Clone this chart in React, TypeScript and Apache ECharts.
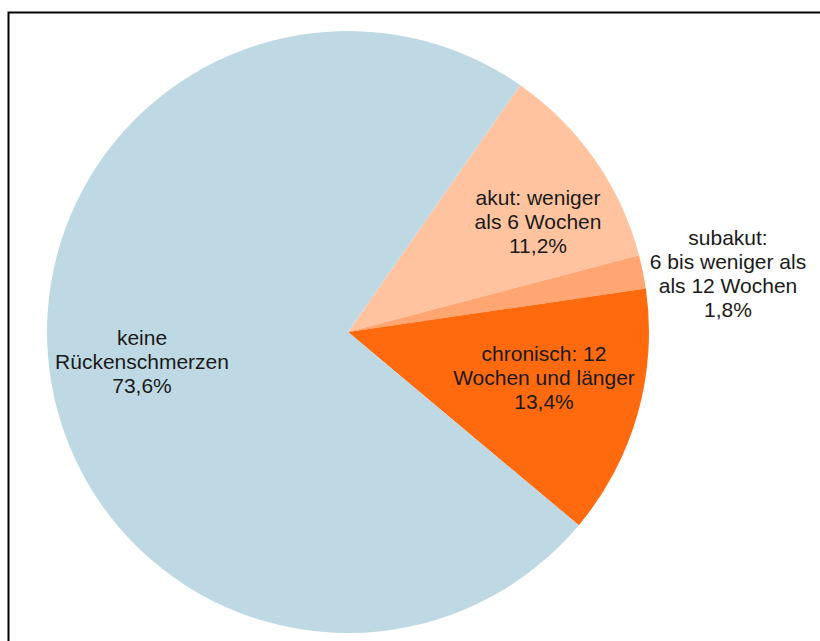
import React, { useEffect, useRef } from "react";
import * as echarts from "echarts";

const categories = [
  "akut: weniger\nals 6 Wochen",
  "subakut:\n6 bis weniger als\nals 12 Wochen",
  "chronisch: 12\nWochen und länger",
  "keine\nRückenschmerzen",
];
const values = [11.2, 1.8, 13.4, 73.6];
const colors = ["#FFC49F", "#FFA672", "#FF6A0F", "#BFD9E4"];
const labelCenters = [
  [538, 221],
  [728, 273],
  [544, 377],
  [142, 361],
];

export default function App() {
  const ref = useRef<HTMLDivElement>(null);
  useEffect(() => {
    document.body.style.margin = "0";
    const chart = echarts.init(ref.current!, null, { renderer: "svg" });
    chart.setOption({
      animation: false,
      backgroundColor: "#ffffff",
      graphic: [
        {
          type: "rect",
          shape: { x: 8.5, y: 12.5, width: 840, height: 660 },
          style: { fill: "none", stroke: "#000000", lineWidth: 2 },
          silent: true,
        },
      ],
      series: [
        {
          type: "pie",
          center: [348, 332],
          radius: 301,
          startAngle: 55.1,
          clockwise: true,
          avoidLabelOverlap: false,
          itemStyle: { borderWidth: 0 },
          emphasis: { disabled: true },
          label: {
            show: true,
            position: "inside",
            fontFamily: "Liberation Sans, Arial, sans-serif",
            fontSize: 21,
            lineHeight: 24,
            color: "#1a1a1a",
            align: "center",
            formatter: (p: any) =>
              p.name + "\n" + p.value.toFixed(1).replace(".", ",") + "%",
          },
          labelLine: { show: false },
          labelLayout: (params: any) => ({
            x: labelCenters[params.dataIndex][0],
            y: labelCenters[params.dataIndex][1],
            align: "center",
            verticalAlign: "middle",
          }),
          data: categories.map((c, i) => ({
            name: c,
            value: values[i],
            itemStyle: { color: colors[i] },
          })),
        },
      ],
    });
    return () => chart.dispose();
  }, []);
  return <div ref={ref} style={{ width: 820, height: 641 }} />;
}
